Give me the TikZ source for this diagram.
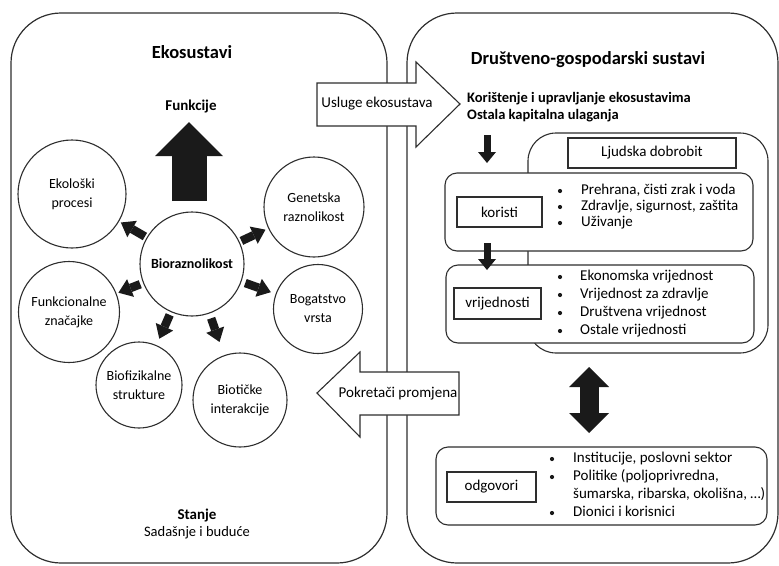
\documentclass[tikz,border=0pt]{standalone}
\usepackage{fontspec}
\setmainfont{Carlito}
\usetikzlibrary{arrows.meta}
\definecolor{ink}{HTML}{1A1A1A}
\definecolor{edge}{HTML}{2E2E2E}
\begin{document}
\begin{tikzpicture}[x=1pt,y=-1pt,
  every node/.style={inner sep=0pt,font=\fontsize{15}{19}\selectfont},
  outerbox/.style={draw=edge,line width=1.2pt,rounded corners=50pt},
  circ/.style={circle,draw=edge,line width=1.1pt,align=center,fill=white,font=\fontsize{14}{19}\selectfont},
  lblbox/.style={draw=edge,line width=1.1pt,fill=white},
  rbox/.style={draw=edge,line width=1.1pt,rounded corners=12pt,fill=white},
  itemtxt/.style={anchor=west,text height=10.5pt,text depth=3pt},
  bul/.style={circle,fill=ink,minimum size=4.2pt},
  radarrow/.style={draw=ink,line width=8.5pt,-{Triangle[width=19pt,length=13pt,line width=0pt]}},
  smallarrow/.style={draw=ink,line width=7pt,-{Triangle[width=18pt,length=11pt,line width=0pt]}},
  blockarrow/.style={draw=edge,line width=1.1pt,fill=white,line join=miter},
  titletxt/.style={font=\bfseries\fontsize{18.5}{22}\selectfont},
  boldtxt/.style={font=\bfseries\fontsize{15}{18}\selectfont},
  boldsub/.style={font=\bfseries\fontsize{14.5}{17}\selectfont}
]
\useasboundingbox (0,0) rectangle (779,565);

% outer containers
\node[outerbox,minimum width=376pt,minimum height=550pt] (eco) at (199,288) {};
\node[outerbox,minimum width=371pt,minimum height=550pt] (soc) at (592.5,288) {};

% left: titles
\node[titletxt] (ekot) at (192,52) {Ekosustavi};
\node[boldtxt] (funk) at (191,107) {Funkcije};
\node[boldtxt] (stanje) at (197,515) {Stanje};
\node[font=\fontsize{14.5}{18}\selectfont] (sad) at (197,533) {Sadašnje i buduće};

% big up arrow
\coordinate (bu1) at (189,201);
\coordinate (bu2) at (189,122);
\draw[draw=ink,line width=35pt,-{Triangle[width=68pt,length=34pt,line width=0pt]}] (bu1) -- (bu2);

% circles
\node[circ,minimum size=104pt] (bio) at (192,264) {\bfseries Bioraznolikost};
\node[circ,minimum size=108pt] (eko) at (72,194) {Ekološki\\procesi};
\node[circ,minimum size=100pt] (gen) at (314,207) {Genetska\\raznolikost};
\node[circ,minimum size=101pt] (fun) at (69,312) {Funkcionalne\\značajke};
\node[circ,minimum size=89pt] (bog) at (318,309) {Bogatstvo\\vrsta};
\node[circ,minimum size=86pt] (biof) at (139,385) {Biofizikalne\\strukture};
\node[circ,minimum size=94pt] (biot) at (240,400) {Biotičke\\interakcije};

\draw[radarrow,shorten <=2pt,shorten >=2pt] (bio) -- (eko);
\draw[radarrow,shorten <=2pt,shorten >=3pt] (bio) -- (gen);
\draw[radarrow,shorten <=3pt,shorten >=2pt] (bio) -- (fun);
\draw[radarrow,shorten <=4pt,shorten >=5pt] (bio) -- (bog);
\draw[radarrow,shorten <=3pt,shorten >=7pt] (bio) -- (biof);
\draw[radarrow,shorten <=5pt,shorten >=14pt] (bio) -- (biot);

% right: title and texts
\node[titletxt] (dgt) at (588,60) {Društveno-gospodarski sustavi};
\node[boldsub,anchor=west] (kor) at (467,99) {Korištenje i upravljanje ekosustavima};
\node[boldsub,anchor=west] (ost) at (467,116) {Ostala kapitalna ulaganja};

% human well-being back box
\node[draw=edge,line width=1.1pt,rounded corners=28pt,fill=white,minimum width=240pt,minimum height=220pt] (ljb) at (648,243) {};
\node[lblbox,minimum width=168pt,minimum height=30pt] (lj) at (652,153) {Ljudska dobrobit};

% koristi
\node[rbox,minimum width=308pt,minimum height=78pt] (korb) at (599,212) {};
\node[lblbox,minimum width=85pt,minimum height=30pt] (korl) at (499.5,212) {koristi};
\node[bul] (k1b) at (560,191) {};
\node[itemtxt] (k1) at (581,191) {Prehrana, čisti zrak i voda};
\node[bul] (k2b) at (560,207) {};
\node[itemtxt] (k2) at (581,207) {Zdravlje, sigurnost, zaštita};
\node[bul] (k3b) at (560,223) {};
\node[itemtxt] (k3) at (581,223) {Uživanje};

% vrijednosti
\node[rbox,minimum width=308pt,minimum height=78pt] (vrb) at (600,304) {};
\node[lblbox,minimum width=87pt,minimum height=31pt] (vrl) at (497.5,303.5) {vrijednosti};
\node[bul] (v1b) at (560,277) {};
\node[itemtxt] (v1) at (580,277) {Ekonomska vrijednost};
\node[bul] (v2b) at (560,295) {};
\node[itemtxt] (v2) at (580,295) {Vrijednost za zdravlje};
\node[bul] (v3b) at (560,313) {};
\node[itemtxt] (v3) at (580,313) {Društvena vrijednost};
\node[bul] (v4b) at (560,331) {};
\node[itemtxt] (v4) at (580,331) {Ostale vrijednosti};

% odgovori
\node[rbox,minimum width=331pt,minimum height=78pt] (odb) at (601.5,486) {};
\node[lblbox,minimum width=89pt,minimum height=30pt] (odl) at (491.5,487) {odgovori};
\node[bul] (o1b) at (552,459) {};
\node[itemtxt] (o1) at (573,459) {Institucije, poslovni sektor};
\node[bul] (o2b) at (552,477) {};
\node[itemtxt] (o2) at (573,477) {Politike (poljoprivredna,};
\node[itemtxt] (o3) at (573,495) {šumarska, ribarska, okolišna, …)};
\node[bul] (o4b) at (552,513) {};
\node[itemtxt] (o4) at (573,513) {Dionici i korisnici};

% small down arrows
\coordinate (d1s) at (487,135);
\coordinate (d1e) at (487,163);
\draw[smallarrow] (d1s) -- (d1e);
\coordinate (d2s) at (487,243);
\coordinate (d2e) at (487,270);
\draw[smallarrow] (d2s) -- (d2e);

% double arrow
\coordinate (da1) at (589,367);
\coordinate (da2) at (589,433);
\draw[draw=ink,line width=19pt,{Triangle[width=40pt,length=20pt,line width=0pt]}-{Triangle[width=40pt,length=20pt,line width=0pt]}] (da1) -- (da2);

% block arrows between systems
\draw[blockarrow] (317,83) -- (416,83) -- (416,62) -- (460,104) -- (416,147) -- (416,126) -- (317,126) -- cycle;
\node (usl) at (377,104) {Usluge ekosustava};
\draw[blockarrow] (317,393) -- (360,352) -- (360,372) -- (459,372) -- (459,415) -- (360,415) -- (360,437) -- cycle;
\node (pok) at (398,394) {Pokretači promjena};
\end{tikzpicture}
\end{document}
